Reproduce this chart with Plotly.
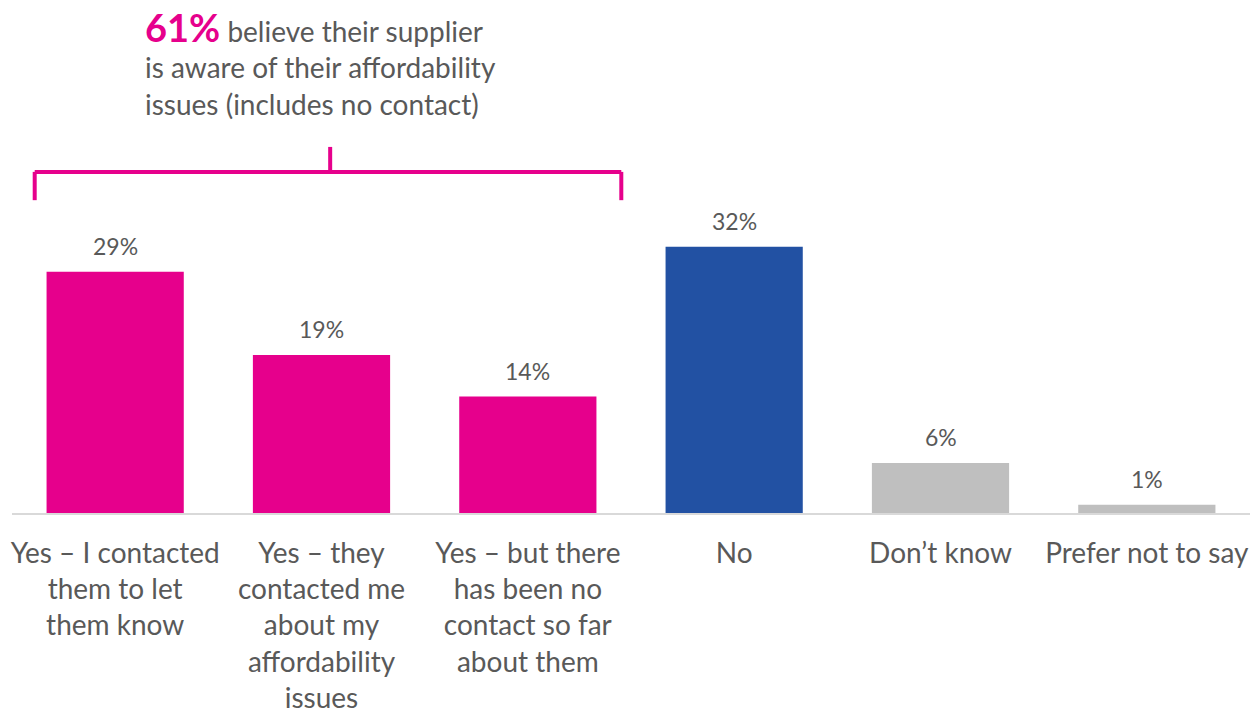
import plotly.graph_objects as go

categories = [
    "Yes – I contacted<br>them to let<br>them know",
    "Yes – they<br>contacted me<br>about my<br>affordability<br>issues",
    "Yes – but there<br>has been no<br>contact so far<br>about them",
    "No",
    "Don’t know",
    "Prefer not to say",
]
values = [29, 19, 14, 32, 6, 1]
bar_colors = ["#E6008C", "#E6008C", "#E6008C", "#2251A3", "#BFBFBF", "#BFBFBF"]

TEXT_GREY = "#595959"
MAGENTA = "#E6008C"
FONT = "Lato, 'Open Sans', sans-serif"

x_pos = list(range(len(categories)))

fig = go.Figure(
    go.Bar(
        x=x_pos,
        y=values,
        marker=dict(color=bar_colors, line=dict(width=0)),
        width=0.665,
        hoverinfo="skip",
    )
)

# Value labels above each bar
for xi, v in zip(x_pos, values):
    fig.add_annotation(
        xref="x", yref="y", x=xi, y=v, yanchor="bottom", yshift=10,
        showarrow=False, text=f"{v}%",
        font=dict(family=FONT, size=23, color=TEXT_GREY),
    )

# Bracket grouping the three "Yes" answers
bracket_left, bracket_right, bracket_mid = -0.39, 2.453, 1.042
bracket_y, bracket_drop, bracket_tick = 41.0, 37.6, 44.0
line_style = dict(color=MAGENTA, width=4)
fig.add_shape(type="line", xref="x", yref="y", x0=bracket_left, x1=bracket_right,
              y0=bracket_y, y1=bracket_y, line=line_style)
fig.add_shape(type="line", xref="x", yref="y", x0=bracket_left, x1=bracket_left,
              y0=bracket_y, y1=bracket_drop, line=line_style)
fig.add_shape(type="line", xref="x", yref="y", x0=bracket_right, x1=bracket_right,
              y0=bracket_y, y1=bracket_drop, line=line_style)
fig.add_shape(type="line", xref="x", yref="y", x0=bracket_mid, x1=bracket_mid,
              y0=bracket_y, y1=bracket_tick, line=line_style)

fig.add_annotation(
    xref="paper", yref="paper", x=0.106, y=1.228, xanchor="left", yanchor="top",
    align="left", showarrow=False,
    text=(f"<span style='font-size:38px;color:{MAGENTA}'><b>61%</b></span>"
          " believe their supplier<br>is aware of their affordability<br>"
          "issues (includes no contact)"),
    font=dict(family=FONT, size=28, color=TEXT_GREY),
)

fig.update_layout(
    width=1260, height=715,
    margin=dict(l=12, r=10, t=97, b=202, autoexpand=False),
    paper_bgcolor="white", plot_bgcolor="white",
    showlegend=False,
    font=dict(family=FONT, color=TEXT_GREY),
    xaxis=dict(
        tickmode="array", tickvals=x_pos, ticktext=categories,
        range=[-0.5, 5.5], automargin=False,
        showgrid=False, zeroline=False,
        showline=True, linecolor="#D9D9D9", linewidth=2,
        ticks="", ticklabelstandoff=14,
        tickfont=dict(family=FONT, size=28, color=TEXT_GREY),
    ),
    yaxis=dict(range=[0, 50], visible=False, showgrid=False, zeroline=False,
               automargin=False),
)

fig.write_html("out.html")
